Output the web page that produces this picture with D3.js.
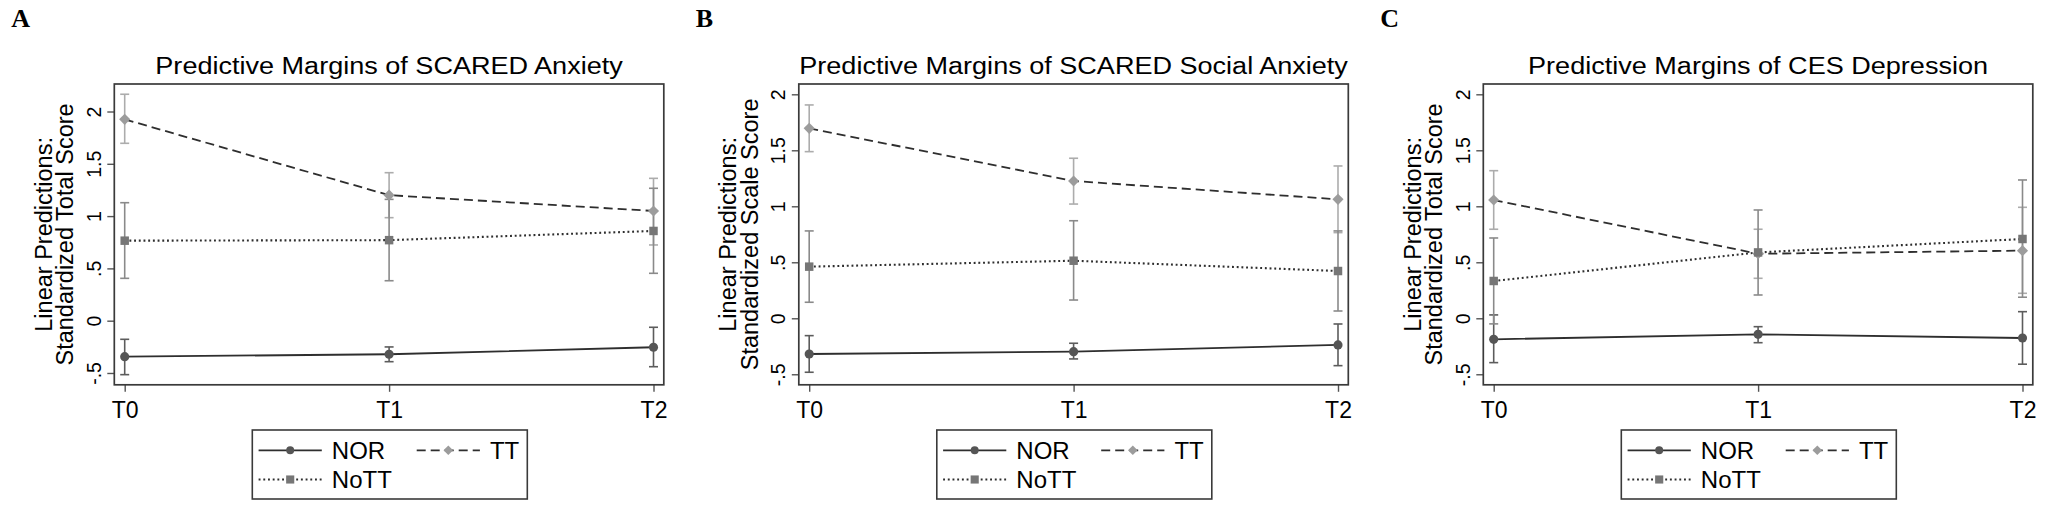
<!DOCTYPE html>
<html>
<head>
<meta charset="utf-8">
<script src="https://cdn.jsdelivr.net/npm/d3@7"></script>
<style>
  body { margin: 0; background: #fff; }
  text { font-family: "Liberation Sans", Arial, sans-serif; fill: #000; }
</style>
</head>
<body>
<div id="chart"></div>
<script>
// Categories and labels
var periods = ["T0", "T1", "T2"];
var groups = ["NOR", "TT", "NoTT"];
var panelLetters = ["A", "B", "C"];
var panelTitles = ["Predictive Margins of SCARED Anxiety",
	"Predictive Margins of SCARED Social Anxiety",
	"Predictive Margins of CES Depression"];
var yTitles = [["Linear Predictions:", "Standardized Total Score"],
	["Linear Predictions:", "Standardized Scale Score"],
	["Linear Predictions:", "Standardized Total Score"]];
var yTickValues = [-0.5, 0, 0.5, 1, 1.5, 2];
var yTickLabels = ["-.5", "0", ".5", "1", "1.5", "2"];
var yDomains = [[-0.613, 2.263], [-0.594, 2.092], [-0.594, 2.092]];

// Margins (rows: NOR, TT, NoTT; columns: T0, T1, T2) and 95% CI bounds
var anxietyMargin = [[-0.344, -0.321, -0.254], [1.925, 1.200, 1.049], [0.765, 0.770, 0.858]];
var anxietyLow    = [[-0.516, -0.392, -0.440], [1.696, 0.985, 0.724], [0.405, 0.382, 0.453]];
var anxietyHigh   = [[-0.178, -0.251, -0.063], [2.165, 1.415, 1.361], [1.128, 1.160, 1.266]];

var socialMargin = [[-0.319, -0.298, -0.238], [1.696, 1.226, 1.062], [0.461, 0.514, 0.422]];
var socialLow    = [[-0.482, -0.363, -0.423], [1.488, 1.020, 0.765], [0.143, 0.163, 0.065]];
var socialHigh   = [[-0.155, -0.223, -0.051], [1.905, 1.429, 1.360], [0.780, 0.871, 0.780]];

var depressionMargin = [[-0.188, -0.143, -0.176], [1.056, 0.576, 0.604], [0.333, 0.588, 0.708]];
var depressionLow    = [[-0.396, -0.218, -0.410], [0.795, 0.357, 0.223], [-0.050, 0.208, 0.188]];
var depressionHigh   = [[0.030, -0.075, 0.059], [1.318, 0.795, 0.991], [0.717, 0.967, 1.235]];

var panelMargins = [anxietyMargin, socialMargin, depressionMargin];
var panelLows = [anxietyLow, socialLow, depressionLow];
var panelHighs = [anxietyHigh, socialHigh, depressionHigh];

// Styles
var markerColors = ["#555555", "#9c9c9c", "#767676"];
var ciColors = ["#5c5c5c", "#acacac", "#8a8a8a"];
var lineColor = "#2e2e2e";
var dashes = [null, "9,5", "1.9,2.8"];
var lineWidths = [1.8, 1.8, 2.1];
var symbols = [d3.symbol().type(d3.symbolCircle).size(66),
	d3.symbol().type(d3.symbolSquare).size(62),
	d3.symbol().type(d3.symbolSquare).size(72)];
var legendSymbols = [d3.symbol().type(d3.symbolCircle).size(50),
	d3.symbol().type(d3.symbolSquare).size(46),
	d3.symbol().type(d3.symbolSquare).size(66)];
var symbolRotate = [0, 45, 0];

var svg = d3.select("#chart").append("svg")
	.attr("width", 2055)
	.attr("height", 510);

var panelStep = 684.5,
	boxLeft0 = 114.3,
	boxW = 549.5,
	boxTop = 84,
	boxBottom = 384.8;

function drawMarker(g, sym, i, x, y) {
	g.append("path")
		.attr("d", sym[i]())
		.attr("transform", "translate(" + x + "," + y + ") rotate(" + symbolRotate[i] + ")")
		.style("fill", markerColors[i])
		.style("stroke", "none");
}

panelTitles.forEach(function(title, p) {
	var left = boxLeft0 + p * panelStep;
	var g = svg.append("g").attr("transform", "translate(" + left + ",0)");

	var x = d3.scalePoint()
		.domain(periods)
		.range([10.4, boxW - 10.3]);

	var y = d3.scaleLinear()
		.domain(yDomains[p])
		.range([boxBottom, boxTop]);

	// Panel letter
	g.append("text")
		.attr("x", -103)
		.attr("y", 27)
		.style("font-family", "'Liberation Serif', 'Times New Roman', serif")
		.style("font-weight", "bold")
		.style("font-size", "26px")
		.text(panelLetters[p]);

	// Title
	g.append("text")
		.attr("transform", "translate(" + (boxW / 2) + ",74) scale(1.1,1)")
		.style("text-anchor", "middle")
		.style("font-size", "24.6px")
		.text(title);

	// Axes
	var yAxis = d3.axisLeft(y)
		.tickValues(yTickValues)
		.tickFormat(function(d, i) { return yTickLabels[i]; })
		.tickSize(7);

	g.append("g")
		.attr("class", "y-axis")
		.call(yAxis)
		.call(function(a) {
			a.select(".domain").remove();
			a.selectAll("line").style("stroke", "#555").style("stroke-width", 1.4);
			a.selectAll("text")
				.attr("x", null)
				.attr("dy", null)
				.attr("transform", "translate(-13.6,0) rotate(-90)")
				.style("text-anchor", "middle")
				.style("font-size", "19.5px")
				.style("font-family", "'Liberation Sans', Arial, sans-serif")
				.style("fill", "#000");
		});

	var xAxis = d3.axisBottom(x).tickSize(7);

	g.append("g")
		.attr("class", "x-axis")
		.attr("transform", "translate(0," + boxBottom + ")")
		.call(xAxis)
		.call(function(a) {
			a.select(".domain").remove();
			a.selectAll("line").style("stroke", "#555").style("stroke-width", 1.4);
			a.selectAll("text")
				.attr("y", 33.5)
				.attr("dy", null)
				.style("font-size", "23px")
				.style("font-family", "'Liberation Sans', Arial, sans-serif")
				.style("fill", "#000");
		});

	// Y axis title (two lines)
	var midY = (boxTop + boxBottom) / 2;
	[-62.6, -41].forEach(function(off, k) {
		g.append("text")
			.attr("transform", "translate(" + off + "," + midY + ") rotate(-90)")
			.style("text-anchor", "middle")
			.style("font-size", "23.5px")
			.text(yTitles[p][k]);
	});

	// Frame
	g.append("rect")
		.attr("x", 0)
		.attr("y", boxTop)
		.attr("width", boxW)
		.attr("height", boxBottom - boxTop)
		.style("fill", "none")
		.style("stroke", "#3a3a3a")
		.style("stroke-width", 1.7);

	var margins = panelMargins[p], lows = panelLows[p], highs = panelHighs[p];

	// Confidence intervals
	groups.forEach(function(grp, i) {
		periods.forEach(function(t, j) {
			var cx = x(t);
			var ci = g.append("g")
				.style("stroke", ciColors[i])
				.style("stroke-width", 1.6);
			ci.append("line")
				.attr("x1", cx).attr("x2", cx)
				.attr("y1", y(lows[i][j])).attr("y2", y(highs[i][j]));
			[lows[i][j], highs[i][j]].forEach(function(v) {
				ci.append("line")
					.attr("x1", cx - 4.5).attr("x2", cx + 4.5)
					.attr("y1", y(v)).attr("y2", y(v));
			});
		});
	});

	// Lines
	var line = d3.line()
		.x(function(d, j) { return x(periods[j]); })
		.y(function(d) { return y(d); });

	groups.forEach(function(grp, i) {
		g.append("path")
			.datum(margins[i])
			.attr("d", line)
			.style("fill", "none")
			.style("stroke", lineColor)
			.style("stroke-width", lineWidths[i])
			.style("stroke-dasharray", dashes[i]);
	});

	// Markers
	groups.forEach(function(grp, i) {
		margins[i].forEach(function(v, j) {
			drawMarker(g, symbols, i, x(periods[j]), y(v));
		});
	});

	// Legend
	var leg = g.append("g").attr("transform", "translate(138,430)");
	leg.append("rect")
		.attr("width", 275)
		.attr("height", 69)
		.style("fill", "#fff")
		.style("stroke", "#3a3a3a")
		.style("stroke-width", 1.6);

	var legendPos = [[6.3, 20.3], [164.4, 20.3], [6.3, 49.5]];
	groups.forEach(function(grp, i) {
		var lx = legendPos[i][0], ly = legendPos[i][1];
		leg.append("line")
			.attr("x1", lx).attr("x2", lx + 63.2)
			.attr("y1", ly).attr("y2", ly)
			.style("stroke", lineColor)
			.style("stroke-width", lineWidths[i])
			.style("stroke-dasharray", dashes[i]);
		drawMarker(leg, legendSymbols, i, lx + 31.6, ly);
		leg.append("text")
			.attr("x", lx + 73.2)
			.attr("y", ly + 8.8)
			.style("font-size", "24px")
			.text(grp);
	});
});
</script>
</body>
</html>
